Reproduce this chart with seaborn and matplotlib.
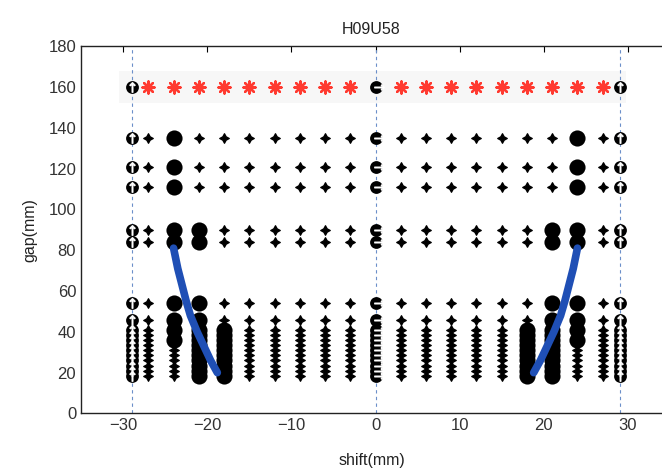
import matplotlib
matplotlib.use("Agg")
import matplotlib.pyplot as plt
import seaborn as sns
import pandas as pd

# grid of measured positions
shift_small = [-27, -15, -12, -9, -6, -3, 3, 6, 9, 12, 15, 27]
shift_ref = [-29, 0, 29]
star_shift = [-27, -24, -21, -18, -15, -12, -9, -6, -3, 3, 6, 9, 12, 15, 18, 21, 24, 27]
star_gap = 160
upper_gap = [135, 121, 111, 90, 84]
lower_gap = [54, 46, 41, 38.5, 36, 33.5, 31, 28.5, 26, 23.5, 21, 18.5]

# which gaps are flagged (big dots) on the columns near the curve
big_24 = [135, 121, 111, 90, 84, 54, 46, 41, 36]
big_21 = [90, 84] + lower_gap
big_18 = [41, 38.5, 36, 33.5, 31, 28.5, 26, 23.5, 21, 18.5]

# limit curve (left branch, right is mirrored)
curve_shift = [-24.0, -23.5, -23.0, -22.5, -22.0, -21.2, -20.4, -19.6, -18.8]
curve_gap = [81, 71, 63, 55, 48, 40, 33, 26, 20]

all_gap = upper_gap + lower_gap

small, big = [], []
for g in all_gap:
    for s in shift_small:
        small.append((s, g))
for side in (-1, 1):
    for g in all_gap:
        (big if g in big_24 else small).append((side * 24, g))
        (big if g in big_21 else small).append((side * 21, g))
        (big if g in big_18 else small).append((side * 18, g))
small = pd.DataFrame(small, columns=["shift", "gap"])
big = pd.DataFrame(big, columns=["shift", "gap"])
stars = pd.DataFrame({"shift": star_shift, "gap": [star_gap] * len(star_shift)})
ref = pd.DataFrame([(s, g) for s in shift_ref for g in [star_gap] + all_gap],
                   columns=["shift", "gap"])

sns.set_style("white")
plt.rcParams["font.family"] = ["Liberation Sans", "DejaVu Sans"]

fig = plt.figure(figsize=(6.62, 4.68), dpi=100)
ax = fig.add_axes([0.1224, 0.1165, 0.8776, 0.785])

# faint background band behind the star row
ax.axhspan(152, 168, xmin=(-30.5 + 35) / 69.05, xmax=(29.8 + 35) / 69.05,
           color="#f7f7f7", lw=0, zorder=0)

for x in shift_ref:
    ax.axvline(x, color="#6b8fc9", lw=0.8, ls=(0, (3, 3)), zorder=1)

sns.scatterplot(data=small, x="shift", y="gap", marker=(4, 1, 0), s=48,
                color="black", edgecolor="black", linewidth=0.9, ax=ax, zorder=3)
sns.scatterplot(data=big, x="shift", y="gap", marker="o", s=135,
                color="black", edgecolor="black", linewidth=0, ax=ax, zorder=3)
sns.scatterplot(data=stars, x="shift", y="gap", marker=(8, 2, 0), s=75,
                color="#ff3a30", edgecolor="#ff3a30", linewidth=1.7, ax=ax, zorder=3)

side_ref = ref[ref["shift"] != 0]
mid_ref = ref[ref["shift"] == 0]
sns.scatterplot(data=ref, x="shift", y="gap", marker="o", s=85,
                color="black", edgecolor="black", linewidth=0, ax=ax, zorder=4)
sns.scatterplot(data=side_ref, x="shift", y="gap", marker=r"$\uparrow$", s=50,
                color="white", edgecolor="white", linewidth=0.6, ax=ax, zorder=5)
mid_shifted = mid_ref.assign(shift=mid_ref["shift"] + 0.4)
sns.scatterplot(data=mid_shifted, x="shift", y="gap", marker=r"$\rightarrow$", s=50,
                color="white", edgecolor="white", linewidth=0.6, ax=ax, zorder=5)

sns.lineplot(x=curve_shift, y=curve_gap, color="#1f4fb5", lw=5.5, ax=ax,
             sort=False, zorder=6)
sns.lineplot(x=[-s for s in curve_shift], y=curve_gap, color="#1f4fb5", lw=5.5,
             ax=ax, sort=False, zorder=6)

ax.set_xlim(-35, 34.05)
ax.set_ylim(0, 180)
ax.set_xticks([-30, -20, -10, 0, 10, 20, 30])
ax.set_yticks(range(0, 181, 20))
ax.tick_params(direction="in", length=4, top=True, right=False,
               labelsize=12, colors="black", labelcolor="#333333")
for name, sp in ax.spines.items():
    sp.set_color("#222222")
    sp.set_linewidth(1.0)
ax.spines["right"].set_visible(False)

ax.set_title("H09U58", fontsize=11.5, color="#222222", pad=9)
ax.set_xlabel("shift(mm)", fontsize=11.5, color="#222222", labelpad=14)
ax.set_ylabel("gap(mm)", fontsize=11.5, color="#222222", labelpad=8)

fig.savefig("out.png", dpi=100)
